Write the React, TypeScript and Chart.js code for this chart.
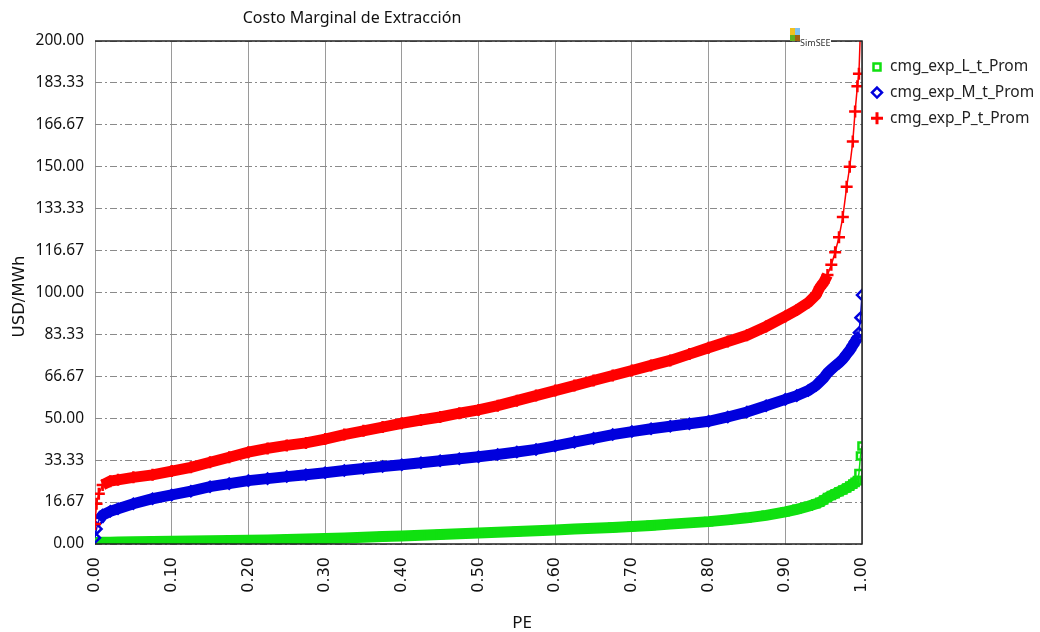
import React, { useEffect, useRef } from 'react';
import { Chart, registerables } from 'chart.js';

Chart.register(...registerables);

// probability of exceedance (shared x values for the three series)
const peValues = [
  0, 0.002, 0.005, 0.01, 0.02, 0.03, 0.05, 0.075, 0.1, 0.125, 0.15, 0.175, 0.2, 0.225, 0.25, 0.275,
  0.3, 0.325, 0.35, 0.375, 0.4, 0.425, 0.45, 0.475, 0.5, 0.525, 0.55, 0.575, 0.6, 0.625, 0.65, 0.675,
  0.7, 0.725, 0.75, 0.775, 0.8, 0.825, 0.85, 0.875, 0.9, 0.915, 0.93, 0.94, 0.945, 0.95, 0.955, 0.96,
  0.965, 0.97, 0.975, 0.98, 0.984, 0.988, 0.991, 0.994, 0.996, 0.998, 1.0,
];

const cmgL = [
  0.5, 0.6, 0.6, 0.7, 0.7, 0.8, 0.9, 1.0, 1.1, 1.2, 1.3, 1.4, 1.5, 1.6, 1.8, 2.0,
  2.2, 2.4, 2.7, 3.0, 3.2, 3.5, 3.8, 4.1, 4.4, 4.7, 5.0, 5.3, 5.6, 6.0, 6.3, 6.6,
  7.0, 7.4, 7.9, 8.4, 8.9, 9.6, 10.4, 11.4, 12.8, 13.8, 15.0, 16.0, 16.6, 17.5, 18.5, 19.3,
  20.0, 20.8, 21.5, 22.3, 23.0, 23.8, 24.5, 25.2, 28.0, 35.0, 39.0,
];

const cmgM = [
  2.5, 6, 9.5, 11.5, 13, 14, 16, 18, 19.5, 21, 22.8, 24, 25.2, 26, 26.8, 27.5,
  28.3, 29.2, 30, 30.8, 31.5, 32.3, 33.1, 33.9, 34.7, 35.6, 36.6, 37.6, 39, 40.5, 42, 43.5,
  44.7, 45.8, 46.8, 47.8, 48.8, 50.5, 52.5, 55, 57.5, 59, 61, 63, 64.5, 66, 68, 69.5,
  70.8, 72, 73.5, 75.5, 77, 79, 80.5, 82, 84, 90, 99,
];

const cmgP = [
  8, 16, 20, 23.5, 25, 25.5, 26.5, 27.5, 29, 30.5, 32.5, 34.5, 36.5, 38, 39.2, 40.2,
  41.7, 43.5, 45, 46.5, 48, 49.3, 50.5, 52, 53.3, 55, 57, 59, 61, 63, 65, 67,
  69, 71, 73, 75.5, 78, 80.5, 83, 86.5, 90.5, 93, 96, 99, 102, 104, 107, 111,
  116, 122, 130, 142, 150, 160, 172, 182, 187, 205, 240,
];

const seriesNames = ['cmg_exp_L_t_Prom', 'cmg_exp_M_t_Prom', 'cmg_exp_P_t_Prom'];
const seriesColors = ['#10e010', '#0000dd', '#ff0000'];
const seriesMarkers = ['rect', 'rectRot', 'cross'];

const xTicks = [0, 0.1, 0.2, 0.3, 0.4, 0.5, 0.6, 0.7, 0.8, 0.9, 1.0];
const yTicks = [0, 16.67, 33.33, 50, 66.67, 83.33, 100, 116.67, 133.33, 150, 166.67, 183.33, 200];

const chartTitle = 'Costo Marginal de Extracción';
const xTitle = 'PE';
const yTitle = 'USD/MWh';
const logoText = 'SimSEE';

const toPoints = (ys: number[]) => ys.map((y, i) => ({ x: peValues[i], y }));

// legend marker shapes
const drawMarker = (ctx: CanvasRenderingContext2D, style: string, x: number, y: number) => {
  ctx.beginPath();
  if (style === 'rect') {
    ctx.rect(x - 3.5, y - 3.5, 7, 7);
  } else if (style === 'rectRot') {
    ctx.moveTo(x, y - 5);
    ctx.lineTo(x + 5, y);
    ctx.lineTo(x, y + 5);
    ctx.lineTo(x - 5, y);
    ctx.closePath();
  } else {
    ctx.moveTo(x - 6, y);
    ctx.lineTo(x + 6, y);
    ctx.moveTo(x, y - 6);
    ctx.lineTo(x, y + 6);
  }
  ctx.stroke();
};

// titles, frame, legend and the little logo
const decorPlugin = {
  id: 'decor',
  afterDraw(chart: any) {
    const { ctx, chartArea } = chart;
    const { left, right, top, bottom } = chartArea;
    ctx.save();

    // frame
    ctx.lineWidth = 1.5;
    ctx.strokeStyle = '#222';
    ctx.beginPath();
    ctx.moveTo(left, top);
    ctx.lineTo(right, top);
    ctx.lineTo(right, bottom);
    ctx.lineTo(left, bottom);
    ctx.stroke();

    // logo
    ctx.fillStyle = '#fff';
    ctx.fillRect(800, 36, 31, 10);
    ctx.fillStyle = '#f0c020';
    ctx.fillRect(790, 28, 5, 7);
    ctx.fillStyle = '#80c0f0';
    ctx.fillRect(795, 28, 5, 7);
    ctx.fillStyle = '#60b020';
    ctx.fillRect(790, 35, 5, 6);
    ctx.fillStyle = '#a06010';
    ctx.fillRect(795, 35, 5, 6);
    ctx.fillStyle = '#333';
    ctx.font = '9px "Noto Sans"';
    ctx.textAlign = 'left';
    ctx.textBaseline = 'alphabetic';
    ctx.fillText(logoText, 800, 46);

    // titles
    ctx.fillStyle = '#111';
    ctx.font = '16px "Noto Sans"';
    ctx.textAlign = 'center';
    ctx.textBaseline = 'middle';
    ctx.fillText(chartTitle, 352, 18);
    ctx.font = '17px "Noto Sans"';
    ctx.fillText(xTitle, 522, 623);
    ctx.save();
    ctx.translate(20, (top + bottom) / 2 + 4);
    ctx.rotate(-Math.PI / 2);
    ctx.font = '16.5px "DejaVu Sans"';
    ctx.fillText(yTitle, 0, 0);
    ctx.restore();

    // legend
    seriesNames.forEach((name, i) => {
      const y = 67 + i * 25.6;
      ctx.lineWidth = i === 2 ? 3 : 2.5;
      ctx.strokeStyle = seriesColors[i];
      drawMarker(ctx, seriesMarkers[i], 877, y);
      ctx.fillStyle = '#222';
      ctx.font = '15.5px "Noto Sans"';
      ctx.textAlign = 'left';
      ctx.textBaseline = 'middle';
      ctx.fillText(name, 890, y);
    });

    ctx.restore();
  },
};

const App: React.FC = () => {
  const ref = useRef<HTMLCanvasElement>(null);
  const chartRef = useRef<Chart | null>(null);

  useEffect(() => {
    if (!ref.current) return;
    document.body.style.margin = '0';

    const allSeries = [cmgL, cmgM, cmgP];
    // red first so it is painted on top
    const datasets = [2, 1, 0].map(i => ({
      label: seriesNames[i],
      data: toPoints(allSeries[i]),
      borderColor: seriesColors[i],
      backgroundColor: 'transparent',
      pointBorderColor: seriesColors[i],
      pointBackgroundColor: 'transparent',
      pointStyle: seriesMarkers[i],
      pointRadius: i === 2 ? 6 : 5,
      pointBorderWidth: 2.5,
      borderWidth: 11,
      tension: 0,
      segment: {
        // steep stretches are drawn as a thin line, the rest as a thick marker band
        borderWidth: (c: any) =>
          Math.abs(c.p1.y - c.p0.y) > 2.2 * Math.abs(c.p1.x - c.p0.x) ? 1.5 : 11,
      },
    }));

    if (chartRef.current) {
      chartRef.current.destroy();
    }

    chartRef.current = new Chart(ref.current, {
      type: 'line',
      data: { datasets },
      options: {
        responsive: false,
        animation: false,
        layout: { padding: { left: 0, right: 178, top: 41, bottom: 0 } },
        plugins: {
          legend: { display: false },
          title: { display: false },
          tooltip: { enabled: false },
        },
        scales: {
          x: {
            type: 'linear',
            min: 0,
            max: 1,
            afterBuildTicks: (scale: any) => {
              scale.ticks = xTicks.map(v => ({ value: v }));
            },
            afterFit: (scale: any) => {
              scale.height = 88;
            },
            ticks: {
              minRotation: 90,
              maxRotation: 90,
              padding: 13,
              color: '#111',
              font: { family: '"DejaVu Sans"', size: 16 },
              callback: (v: any) => Number(v).toFixed(2),
            },
            grid: { color: '#9a9a9a', lineWidth: 1, drawTicks: false },
            border: { display: false },
          },
          y: {
            type: 'linear',
            min: 0,
            max: 200,
            afterBuildTicks: (scale: any) => {
              scale.ticks = yTicks.map(v => ({ value: v }));
            },
            afterFit: (scale: any) => {
              scale.width = 95;
            },
            ticks: {
              padding: 11,
              color: '#111',
              font: { family: '"Noto Sans"', size: 15.5 },
              callback: (v: any) => Number(v).toFixed(2),
            },
            grid: { color: '#8a8a8a', lineWidth: 1, drawTicks: false },
            border: { display: false, dash: [7, 3, 2, 3] },
          },
        },
      },
      plugins: [decorPlugin],
    });

    return () => {
      if (chartRef.current) {
        chartRef.current.destroy();
        chartRef.current = null;
      }
    };
  }, []);

  return (
    <div style={{ position: 'absolute', left: 0, top: 0, width: 1040, height: 632, background: '#fff' }}>
      <canvas ref={ref} width={1040} height={632} style={{ width: 1040, height: 632 }}></canvas>
    </div>
  );
};

export default App;
